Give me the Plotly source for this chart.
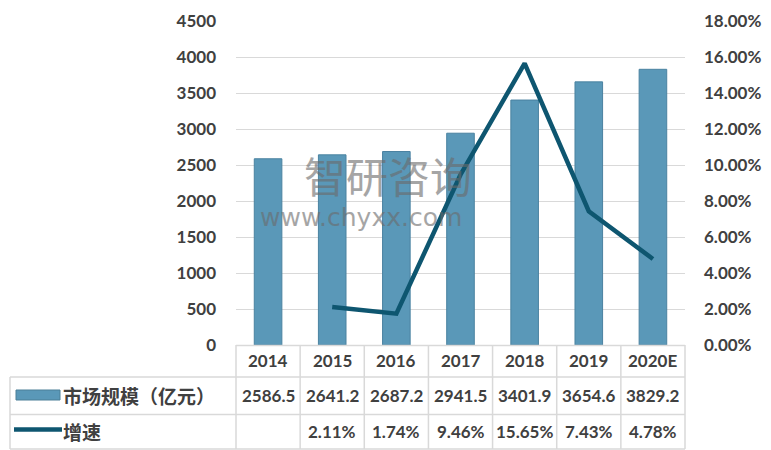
import plotly.graph_objects as go

years = ["2014", "2015", "2016", "2017", "2018", "2019", "2020E"]
market = [2586.5, 2641.2, 2687.2, 2941.5, 3401.9, 3654.6, 3829.2]
growth = [None, 0.0211, 0.0174, 0.0946, 0.1565, 0.0743, 0.0478]
market_labels = ["2586.5", "2641.2", "2687.2", "2941.5", "3401.9", "3654.6", "3829.2"]
growth_labels = ["", "2.11%", "1.74%", "9.46%", "15.65%", "7.43%", "4.78%"]
series_names = ["市场规模（亿元）", "增速"]

W, H = 771, 450
L, R, T, B = 236, 685, 21, 345
pw, ph = R - L, B - T

def px(x):
    return (x - L) / pw

def py(y):
    return (B - y) / ph

bar_color = "#5a98b8"
line_color = "#0e5670"
grid = "#d9d9d9"
txt = "#404040"
font_lat = "Lato, 'Noto Sans', sans-serif"
font_cjk = "'Noto Sans CJK SC', sans-serif"
tfont = dict(family=font_lat, size=17, color=txt, weight="bold")

fig = go.Figure()
fig.add_trace(go.Bar(x=years, y=market, name=series_names[0], width=0.43,
                     marker=dict(color=bar_color, line=dict(color="#4a82a0", width=1)),
                     yaxis="y"))
fig.add_trace(go.Scatter(x=years, y=growth, name=series_names[1], mode="lines",
                         line=dict(color=line_color, width=4.5), yaxis="y2",
                         connectgaps=False))

fig.update_layout(
    width=W, height=H,
    margin=dict(l=L, r=W - R, t=T, b=H - B, autoexpand=False),
    plot_bgcolor="white", paper_bgcolor="white",
    showlegend=False,
    xaxis=dict(type="category", showticklabels=False, showgrid=False, zeroline=False,
               showline=False, range=[-0.5, 6.5], automargin=False),
    yaxis=dict(range=[0, 4500], dtick=500, showgrid=True, gridcolor=grid, gridwidth=1,
               zeroline=False, showline=False, tickfont=tfont, ticklabelstandoff=19,
               automargin=False),
    yaxis2=dict(range=[0, 0.18], dtick=0.02, tickformat=".2%", overlaying="y", side="right",
                showgrid=False, zeroline=False, showline=False,
                tickfont=tfont, ticklabelstandoff=18, automargin=False),
)

shapes = []
def hline(y, x0, x1):
    shapes.append(dict(type="line", xref="paper", yref="paper", x0=px(x0), x1=px(x1),
                       y0=py(y), y1=py(y), line=dict(color=grid, width=1.5)))

def vline(x, y0, y1):
    shapes.append(dict(type="line", xref="paper", yref="paper", x0=px(x), x1=px(x),
                       y0=py(y0), y1=py(y1), line=dict(color=grid, width=1.5)))

hline(345.5, 236, 685)
hline(377, 10, 685)
hline(414.5, 10, 685)
hline(449, 10, 685)
vline(10, 377, 449)
for i in range(len(years) + 1):
    vline(236 + 449 * i / len(years), 345, 449)

shapes.append(dict(type="rect", xref="paper", yref="paper", x0=px(16), x1=px(60),
                   y0=py(400), y1=py(390), fillcolor=bar_color,
                   line=dict(color="#4a7f97", width=1)))
shapes.append(dict(type="line", xref="paper", yref="paper", x0=px(14), x1=px(62),
                   y0=py(429.5), y1=py(429.5), line=dict(color=line_color, width=4.5)))
fig.update_layout(shapes=shapes)

ann = []
def add(x, y, text, font, xref="x", xanchor="center", opacity=1):
    ann.append(dict(x=x, y=y, xref=xref, yref="paper", text=text, showarrow=False,
                    xanchor=xanchor, yanchor="middle", font=font, opacity=opacity))

for i, yr in enumerate(years):
    add(i, py(360), yr, tfont)
    add(i, py(395), market_labels[i], tfont)
    if growth_labels[i]:
        add(i, py(431.5), growth_labels[i], tfont)
cjk = dict(family=font_cjk, size=19, color=txt)
add(px(61), py(395), "<b>" + series_names[0] + "</b>", cjk, xref="paper", xanchor="left")
add(px(61), py(431.5), "<b>" + series_names[1] + "</b>", cjk, xref="paper", xanchor="left")
add(px(302), py(174), "智研咨询", dict(family=font_cjk, size=42, color="#6b6b6b"),
    xref="paper", xanchor="left", opacity=0.6)
add(px(258), py(217), "www.chyxx.com", dict(family="'DejaVu Sans', sans-serif", size=25, color="#6b6b6b"),
    xref="paper", xanchor="left", opacity=0.6)
fig.update_layout(annotations=ann)

fig.write_html("out.html", config={"displayModeBar": False},
               post_script="document.body.style.margin='0';document.body.style.overflow='hidden';")
